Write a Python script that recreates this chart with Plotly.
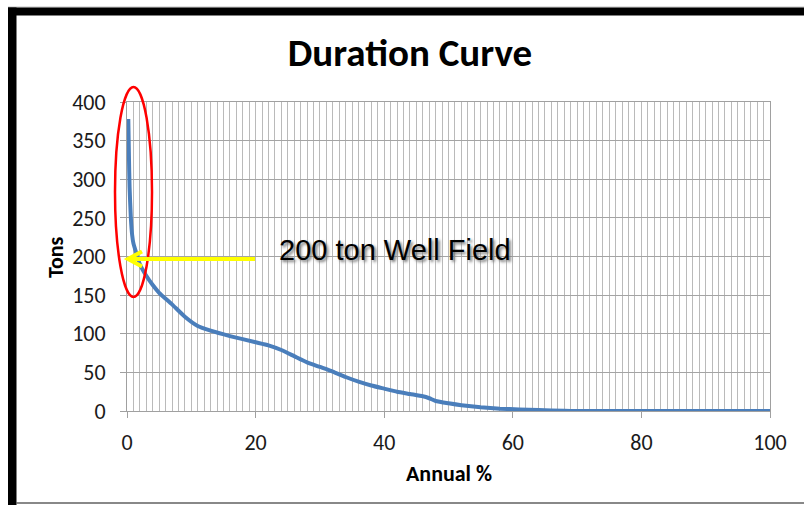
import plotly.graph_objects as go

# ---- data ----
annual_pct = [0.2, 0.3, 0.4, 0.6, 0.8, 1.0, 1.5, 2, 3, 4, 5, 7, 9, 11, 13, 16, 20, 22, 24,
              26, 28, 30, 32, 34, 36, 38, 40, 42, 44, 46, 47, 48, 50, 52, 55, 58, 61, 64,
              68, 70, 80, 90, 100]
tons = [378, 330, 290, 250, 228, 217, 203, 190, 175, 163, 153, 138, 122, 110, 104, 97, 89, 85, 79,
        71, 63, 57, 51, 44, 38, 33, 29, 25, 22, 19, 16.5, 13, 10, 7.5, 4.8, 3, 2, 1.2,
        0.3, 0, 0, 0, 0]

title_text = "Duration Curve"
x_title = "Annual %"
y_title = "Tons"
callout = "200 ton Well Field"
x_ticks = [0, 20, 40, 60, 80, 100]
y_ticks = [0, 50, 100, 150, 200, 250, 300, 350, 400]

# ---- layout geometry (pixels) ----
W, H = 804, 505
L, R, T, B = 127, 770, 102, 411


def px(xp):
    return (xp - L) / (R - L)


def py(yp):
    return (B - yp) / (B - T)


FONT = "Carlito, 'Liberation Sans Narrow', Lato, sans-serif"

fig = go.Figure()
fig.add_trace(go.Scatter(
    x=annual_pct, y=tons, mode="lines",
    line=dict(color="#4A7EBB", width=4, shape="spline", smoothing=0.5),
    hoverinfo="skip", showlegend=False))

shapes = []
# black frame pieces
shapes.append(dict(type="line", xref="paper", yref="paper", x0=px(8), x1=px(804), y0=py(7), y1=py(7),
                   line=dict(color="#c0c0c0", width=1)))
shapes.append(dict(type="rect", xref="paper", yref="paper", x0=px(8), x1=px(805), y0=py(15.5), y1=py(7.5),
                   fillcolor="black", line=dict(width=0)))
shapes.append(dict(type="rect", xref="paper", yref="paper", x0=px(8), x1=px(16.5), y0=py(506), y1=py(7.5),
                   fillcolor="black", line=dict(width=0)))
shapes.append(dict(type="line", xref="paper", yref="paper", x0=px(16), x1=px(805), y0=py(503), y1=py(503),
                   line=dict(color="#606060", width=1.5)))
# red ellipse
shapes.append(dict(type="circle", xref="paper", yref="paper", x0=px(115), x1=px(152), y0=py(297), y1=py(87),
                   line=dict(color="#FF0000", width=2.5)))
# yellow arrow
ay = py(259)
shapes.append(dict(type="line", xref="paper", yref="paper", x0=px(128.5), x1=px(255), y0=ay, y1=ay,
                   line=dict(color="#FFFF00", width=4)))
shapes.append(dict(type="path", xref="paper", yref="paper",
                   path=f"M {px(142)} {py(251.5)} L {px(128)} {ay} L {px(142)} {py(266.5)}",
                   line=dict(color="#FFFF00", width=4)))

annotations = [
    dict(text=callout, xref="paper", yref="paper", x=px(395), y=py(250), showarrow=False,
         xanchor="center", yanchor="middle",
         font=dict(family="Liberation Sans, Arial", size=29, color="black", shadow="2px 2px 3px #777")),
    dict(text=f"<b>{y_title}</b>", xref="paper", yref="paper", x=px(55), y=py(257), showarrow=False,
         textangle=-90, xanchor="center", yanchor="middle",
         font=dict(family=FONT, size=22, color="black")),
    dict(text=f"<b>{x_title}</b>", xref="paper", yref="paper", x=px(449), y=py(473), showarrow=False,
         xanchor="center", yanchor="middle",
         font=dict(family=FONT, size=22, color="black")),
]

fig.update_layout(
    width=W, height=H,
    margin=dict(l=L, r=W - R, t=T, b=H - B, pad=0),
    paper_bgcolor="white", plot_bgcolor="white",
    title=dict(text=f"<b>{title_text}</b>", x=px(410), xanchor="center", xref="paper",
               y=1 - 52 / H, yanchor="middle", yref="container",
               font=dict(family=FONT, size=39, color="black")),
    shapes=shapes, annotations=annotations,
    showlegend=False,
)
fig.update_xaxes(
    range=[0, 100], tickvals=x_ticks, ticks="outside", ticklen=6, tickcolor="#a0a0a0",
    ticklabelstandoff=6,
    showgrid=True, gridcolor="#bababa", gridwidth=1.2,
    minor=dict(dtick=1, showgrid=True, gridcolor="#bababa", gridwidth=1.2, ticks=""),
    showline=True, linecolor="#a0a0a0", linewidth=1, mirror=True, zeroline=False,
    tickfont=dict(family=FONT, size=22, color="#1a1a1a"), fixedrange=True)
fig.update_yaxes(
    range=[0, 400], tickvals=y_ticks, ticks="outside", ticklen=6, tickcolor="#a0a0a0",
    ticklabelstandoff=10,
    showgrid=True, gridcolor="#a4a4a4", gridwidth=1.4,
    showline=True, linecolor="#a0a0a0", linewidth=1, mirror=True, zeroline=False,
    tickfont=dict(family=FONT, size=22, color="#1a1a1a"), fixedrange=True)

fig.write_html("out.html")
